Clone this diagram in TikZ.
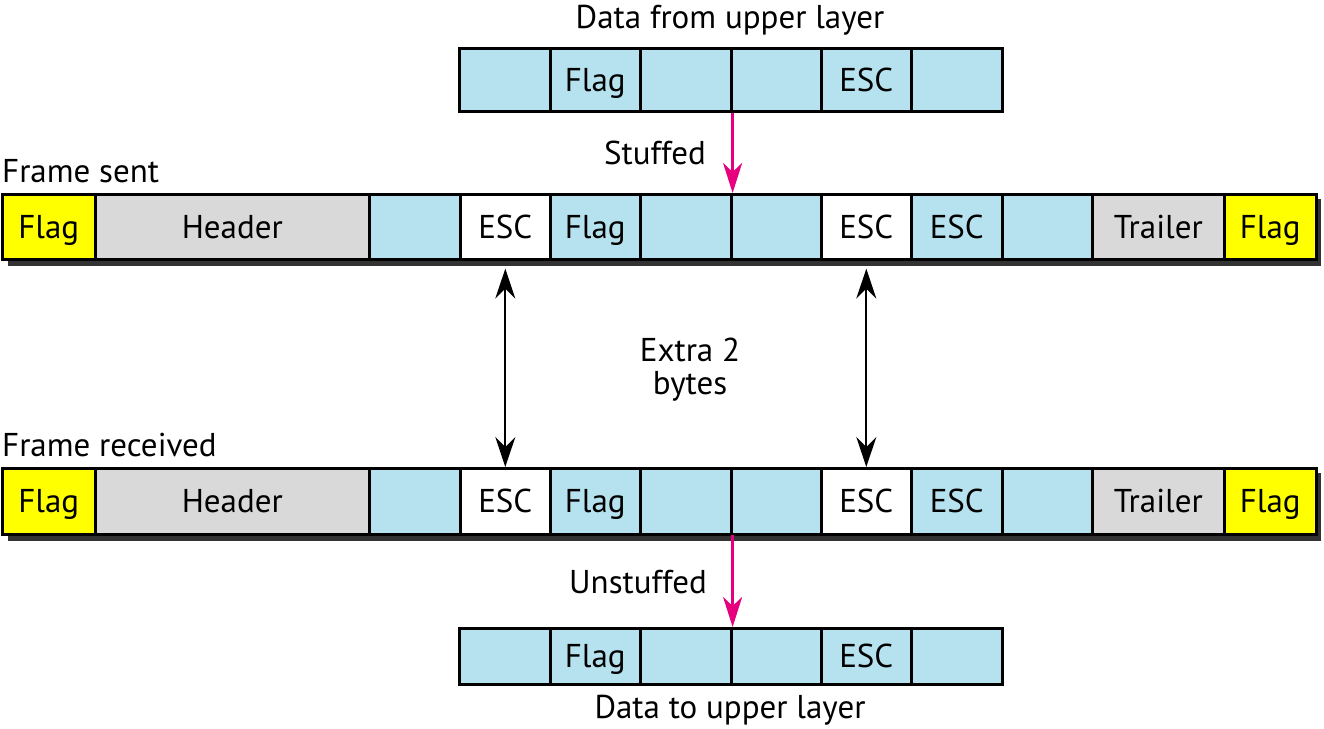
\documentclass[tikz,border=0pt]{standalone}
\usepackage{fontspec}
\setmainfont{PT Sans}
\usetikzlibrary{arrows.meta}
\definecolor{cblue}{RGB}{181,226,238}
\definecolor{cyel}{RGB}{255,255,0}
\definecolor{cgray}{RGB}{217,217,217}
\definecolor{cpink}{RGB}{230,0,126}
\definecolor{cshadow}{RGB}{51,51,51}
\newcommand\mkcell[7]{\node[cell, fill=#6, minimum width={#3-#2}, minimum height={#5-#4}] (#1) at (#2,#4) {#7};}
\begin{document}
\begin{tikzpicture}[x=1pt,y=-1pt,
  cell/.style={draw=black, line width=2.6pt, inner sep=0pt, anchor=north west, text height=22.5pt, text depth=0pt, font=\fontsize{33}{33}\selectfont},
  lbl/.style={inner sep=0pt, font=\fontsize{33}{33}\selectfont},
  pinkarrow/.style={draw=cpink, line width=2.8pt, -{Stealth[length=30pt,width=19pt,inset=9pt]}},
  dblarrow/.style={draw=black, line width=2.2pt, {Stealth[length=30pt,width=20pt,inset=10pt]}-{Stealth[length=30pt,width=20pt,inset=10pt]}}]
\useasboundingbox (0,0) rectangle (1324,728);
% data from upper layer
\mkcell{u1}{458}{549}{47}{110}{cblue}{}
\mkcell{u2}{549}{639}{47}{110}{cblue}{Flag}
\mkcell{u3}{639}{730}{47}{110}{cblue}{}
\mkcell{u4}{730}{820}{47}{110}{cblue}{}
\mkcell{u5}{820}{910}{47}{110}{cblue}{ESC}
\mkcell{u6}{910}{1001}{47}{110}{cblue}{}
\node[lbl, anchor=base] (tDataFrom) at (730,28) {Data from upper layer};
% frame sent
\fill[cshadow] (8,199) rectangle (1321,266);
\mkcell{s1}{1}{94}{193}{258}{cyel}{Flag}
\mkcell{s2}{94}{368}{193}{258}{cgray}{Header}
\mkcell{s3}{368}{459}{193}{258}{cblue}{}
\mkcell{s4}{459}{549}{193}{258}{white}{ESC}
\mkcell{s5}{549}{639}{193}{258}{cblue}{Flag}
\mkcell{s6}{639}{730}{193}{258}{cblue}{}
\mkcell{s7}{730}{820}{193}{258}{cblue}{}
\mkcell{s8}{820}{910}{193}{258}{white}{ESC}
\mkcell{s9}{910}{1001}{193}{258}{cblue}{ESC}
\mkcell{s10}{1001}{1091}{193}{258}{cblue}{}
\mkcell{s11}{1091}{1223}{193}{258}{cgray}{Trailer}
\mkcell{s12}{1223}{1315}{193}{258}{cyel}{Flag}
\node[lbl, anchor=base west] (tSent) at (2,182) {Frame sent};
% frame received
\fill[cshadow] (8,473) rectangle (1321,541);
\mkcell{r1}{1}{94}{467}{533}{cyel}{Flag}
\mkcell{r2}{94}{368}{467}{533}{cgray}{Header}
\mkcell{r3}{368}{459}{467}{533}{cblue}{}
\mkcell{r4}{459}{549}{467}{533}{white}{ESC}
\mkcell{r5}{549}{639}{467}{533}{cblue}{Flag}
\mkcell{r6}{639}{730}{467}{533}{cblue}{}
\mkcell{r7}{730}{820}{467}{533}{cblue}{}
\mkcell{r8}{820}{910}{467}{533}{white}{ESC}
\mkcell{r9}{910}{1001}{467}{533}{cblue}{ESC}
\mkcell{r10}{1001}{1091}{467}{533}{cblue}{}
\mkcell{r11}{1091}{1223}{467}{533}{cgray}{Trailer}
\mkcell{r12}{1223}{1315}{467}{533}{cyel}{Flag}
\node[lbl, anchor=base west] (tRecv) at (2,456) {Frame received};
% data to upper layer
\mkcell{d1}{458}{549}{627}{683}{cblue}{}
\mkcell{d2}{549}{639}{627}{683}{cblue}{Flag}
\mkcell{d3}{639}{730}{627}{683}{cblue}{}
\mkcell{d4}{730}{820}{627}{683}{cblue}{}
\mkcell{d5}{820}{910}{627}{683}{cblue}{ESC}
\mkcell{d6}{910}{1001}{627}{683}{cblue}{}
\node[lbl, anchor=base] (tDataTo) at (730,718) {Data to upper layer};
% labels
\node[lbl, anchor=base] (tStuffed) at (655,164) {Stuffed};
\node[lbl, anchor=base] (tUnstuffed) at (638,593) {Unstuffed};
\node[lbl, anchor=base] (tExtra1) at (690,361) {Extra 2};
\node[lbl, anchor=base] (tExtra2) at (690,394) {bytes};
% arrows
\draw[pinkarrow] (u3.south east) -- (s6.north east);
\draw[pinkarrow] ([yshift=1pt]r6.south east) -- (d3.north east);
\draw[dblarrow] ([yshift=-8pt]s4.south) -- (r4.north);
\draw[dblarrow] ([yshift=-8pt]s8.south) -- (r8.north);
\end{tikzpicture}
\end{document}
